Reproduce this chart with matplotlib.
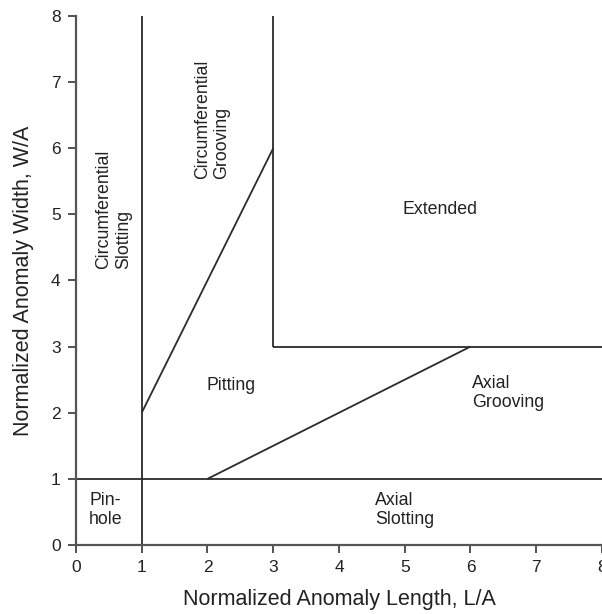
import matplotlib
matplotlib.use("Agg")
import matplotlib.pyplot as plt

plt.rcParams['font.family'] = ['Liberation Sans', 'DejaVu Sans']

# boundary segments of the anomaly classes (L/A, W/A)
seg_x = [[1, 1], [0, 8], [1, 3], [3, 3], [3, 8], [2, 6]]
seg_y = [[0, 8], [1, 1], [2, 6], [3, 8], [3, 3], [1, 3]]

# region names and where they sit
labels = ["Circumferential\nSlotting", "Circumferential\nGrooving", "Extended",
          "Pitting", "Axial\nGrooving", "Axial\nSlotting", "Pin-\nhole"]
lab_x = [0.57, 2.07, 4.97, 1.98, 6.03, 4.55, 0.2]
lab_y = [4.17, 5.53, 5.07, 2.41, 2.3, 0.53, 0.53]
lab_rot = [90, 90, 0, 0, 0, 0, 0]

ticks = [0, 1, 2, 3, 4, 5, 6, 7, 8]

fig = plt.figure(figsize=(6.02, 6.14), dpi=100)
ax = fig.add_axes([0.1262, 0.1124, 0.8738, 0.8616])

lc = "#2b2b2b"
for xs, ys in zip(seg_x, seg_y):
    ax.plot(xs, ys, color=lc, lw=1.3, solid_capstyle="butt", clip_on=False)

for t, x, y, r in zip(labels, lab_x, lab_y, lab_rot):
    if r == 90:
        ax.text(x, y, t, rotation=90, ha="center", va="bottom",
                multialignment="left", fontsize=12.8, color="#222222")
    else:
        ax.text(x, y, t, ha="left", va="center", multialignment="left",
                fontsize=12.8, color="#222222")

ax.set_xlim(0, 8)
ax.set_ylim(0, 8)
ax.set_xticks(ticks)
ax.set_yticks(ticks)
ax.tick_params(direction="out", length=6, width=1.3, color="#444444",
               labelsize=12.5, labelcolor="#222222", pad=5)
for s in ["top", "right"]:
    ax.spines[s].set_visible(False)
for s in ["left", "bottom"]:
    ax.spines[s].set_color("#555555")
    ax.spines[s].set_linewidth(1.6)

ax.set_xlabel("Normalized Anomaly Length, L/A", fontsize=15.5, color="#222222", labelpad=10)
ax.set_ylabel("Normalized Anomaly Width, W/A", fontsize=15.5, color="#222222", labelpad=12)

fig.savefig("out.png", dpi=100)
